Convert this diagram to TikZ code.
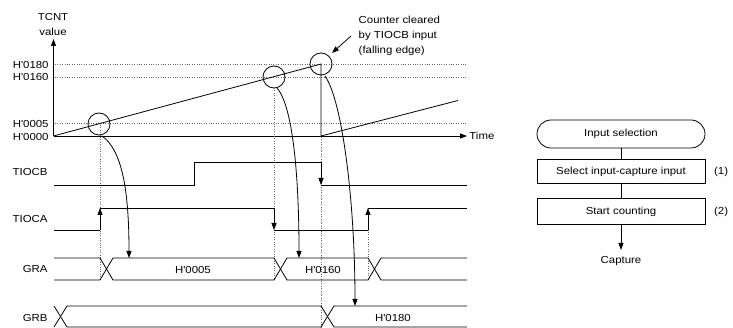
\documentclass[tikz,border=0pt]{standalone}
\usepackage{fontspec}
\setmainfont{Liberation Sans}[FakeStretch=1.12]
\usetikzlibrary{arrows.meta,positioning}
\newcommand{\hx}[1]{H\textquotesingle#1}

\begin{document}
\begin{tikzpicture}[x=1pt, y=-1pt, >={Triangle[length=7pt,width=5pt]}, line width=0.8pt,
    font=\fontsize{10.2}{15}\selectfont,
    guide/.style={line width=0.6pt, gray!80!black, dash pattern=on 0.8pt off 1.6pt},
    flowbox/.style={draw, minimum width=168pt, minimum height=25pt, inner sep=0pt},
    lbl/.style={anchor=east, inner sep=0pt}]
    \useasboundingbox (0,0) rectangle (733,328);

    % ===== TCNT value =====
    \node[align=center] (tcnt) at (53,24) {TCNT\\value};
    \node[lbl] (l180) at (49,64.5) {\hx{0180}};
    \node[lbl] (l160) at (49,77) {\hx{0160}};
    \node[lbl] (l005) at (49,123.5) {\hx{0005}};
    \node[lbl] (l000) at (49,137) {\hx{0000}};

    \draw[guide] (55,64.5) -- (467,64.5);
    \draw[guide] (55,77) -- (467,77);
    \draw[guide] (55,123.5) -- (467,123.5);

    \draw[->] (53.5,136) -- (53.5,39);
    \draw[->] (53.5,136) -- (467,136);
    \node[anchor=west, inner sep=1pt] (time) at (468,136) {Time};

    \draw (53.5,136) -- (321,64) -- (321,136);
    \draw (321,136) -- (458,100.5);

    \draw (99,124) circle (11);
    \draw (274,77) circle (11);
    \draw (321,64) circle (11);

    \node[align=left, anchor=west] (note) at (355,36) {Counter cleared\\by TIOCB input\\(falling edge)};
    \draw[->] (351,36) -- (332,53);

    % ===== guides =====
    \draw[guide] (100,125) -- (100,280);
    \draw[guide] (274,88) -- (274,280);
    \draw[guide] (321,137) -- (321,327);
    \draw[guide] (368,208) -- (368,280);

    % ===== TIOCB / TIOCA =====
    \node[lbl] (tiocb) at (48,172) {TIOCB};
    \draw (54,185) -- (194,185) -- (194,162) -- (321,162);
    \draw[->] (321,162) -- (321,185);
    \draw (321,185) -- (467,185);

    \node[lbl] (tioca) at (48,219) {TIOCA};
    \draw (54,230) -- (100,230);
    \draw[->] (100,230) -- (100,208);
    \draw (100,208) -- (274,208);
    \draw[->] (274,208) -- (274,230);
    \draw (274,230) -- (368,230);
    \draw[->] (368,230) -- (368,208);
    \draw (368,208) -- (467,208);

    % ===== GRA / GRB =====
    \node[lbl] (gra) at (48,269) {GRA};
    \draw (54,258) -- (100,258) -- (113,280) -- (274,280) -- (287,258) -- (368,258) -- (381,280) -- (467,280);
    \draw (54,280) -- (100,280) -- (113,258) -- (274,258) -- (287,280) -- (368,280) -- (381,258) -- (467,258);
    \node (gra1) at (193,270) {\hx{0005}};
    \node (gra2) at (323,270) {\hx{0160}};

    \node[lbl] (grb) at (48,318) {GRB};
    \draw (54,306) -- (67,327) -- (321,327) -- (334,306) -- (467,306);
    \draw (54,327) -- (67,306) -- (321,306) -- (334,327) -- (467,327);
    \node (grb1) at (393,318) {\hx{0180}};

    % captures
    \draw[->] (102,136) .. controls (122,150) and (129,190) .. (129,258);
    \draw[->] (277,88) .. controls (292,105) and (299,170) .. (299,258);
    \draw[->] (325,76) .. controls (342,100) and (355,200) .. (355,306);

    % ===== flow =====
    \node[flowbox, rounded corners=14pt, minimum height=28pt] (sel) at (621,134) {Input selection};
    \node[flowbox, minimum height=24pt, below=11pt of sel] (pick) {Select input-capture input};
    \node[flowbox, minimum height=26pt, below=14pt of pick] (cnt) {Start counting};
    \node[right=5pt of pick] (n1) {(1)};
    \node[right=5pt of cnt] (n2) {(2)};
    \coordinate[below=25pt of cnt] (capend);
    \node[below=3pt of capend] (capt) {Capture};
    \draw (sel) -- (pick);
    \draw (pick) -- (cnt);
    \draw[->] (cnt) -- (capend);
\end{tikzpicture}
\end{document}
